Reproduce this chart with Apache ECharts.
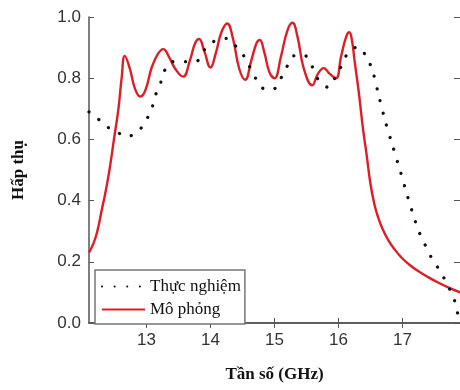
<!DOCTYPE html>
<html>
<head>
<meta charset="utf-8">
<script src="https://cdn.jsdelivr.net/npm/echarts@6/dist/echarts.min.js"></script>
<style>html,body{margin:0;padding:0;background:#fff}#c{width:460px;height:390px}</style>
</head>
<body>
<div id="c"></div>
<script>
const xTicks = [13, 14, 15, 16, 17];
const yTicks = [0, 0.2, 0.4, 0.6, 0.8, 1.0];
const seriesNames = ['Thực nghiệm', 'Mô phỏng'];
const measFreq = [12.10,12.20,12.35,12.52,12.68,12.85,12.98,13.08,13.13,13.21,13.27,13.39,13.57,13.77,13.90,14.04,14.25,14.38,14.52,14.61,14.71,14.82,14.98,15.10,15.20,15.30,15.46,15.59,15.68,15.84,15.96,16.06,16.15,16.31,16.44,16.53,16.63,16.73,16.85,16.97,17.08,17.20,17.27,17.36,17.45,17.56,17.66,17.75,17.83,17.87,17.90];
const measVal  = [0.690,0.676,0.645,0.627,0.609,0.622,0.658,0.700,0.740,0.778,0.820,0.854,0.854,0.854,0.892,0.919,0.930,0.908,0.873,0.838,0.798,0.767,0.764,0.800,0.840,0.873,0.876,0.838,0.797,0.770,0.807,0.846,0.883,0.903,0.868,0.827,0.743,0.661,0.577,0.494,0.414,0.333,0.293,0.253,0.215,0.179,0.143,0.105,0.064,0.023,0.000];
const simFreq = [12.10,12.17,12.23,12.30,12.36,12.42,12.49,12.56,12.61,12.66,12.74,12.82,12.90,12.98,13.08,13.18,13.26,13.35,13.45,13.57,13.68,13.76,13.82,13.90,14.00,14.08,14.17,14.26,14.35,14.45,14.54,14.64,14.72,14.77,14.84,14.92,15.00,15.10,15.20,15.28,15.36,15.46,15.59,15.68,15.77,15.86,15.96,16.04,16.12,16.17,16.21,16.25,16.32,16.38,16.44,16.50,16.56,16.62,16.69,16.78,16.88,16.98,17.10,17.22,17.40,17.58,17.75,17.90];
const simVal  = [0.230,0.260,0.300,0.370,0.430,0.500,0.600,0.700,0.800,0.873,0.830,0.765,0.740,0.760,0.835,0.880,0.895,0.870,0.830,0.805,0.860,0.915,0.928,0.890,0.835,0.880,0.950,0.979,0.930,0.830,0.795,0.860,0.915,0.925,0.885,0.820,0.800,0.870,0.955,0.981,0.935,0.830,0.777,0.815,0.833,0.815,0.800,0.870,0.935,0.950,0.925,0.860,0.750,0.640,0.550,0.455,0.390,0.345,0.307,0.270,0.240,0.215,0.192,0.173,0.150,0.130,0.113,0.100];

const pair = (a, b) => a.map((v, i) => [v, b[i]]);
const axisCol = '#555';
const tickFont = {color: '#333', fontFamily: 'Liberation Sans, Arial, sans-serif', fontSize: 17};

const chart = echarts.init(document.getElementById('c'), null, {renderer: 'canvas'});
chart.setOption({
  animation: false,
  backgroundColor: '#fff',
  grid: {left: 89, top: 17, width: 372, height: 306},
  xAxis: [{
    type: 'value', min: 12.1, max: 17.9,
    axisLine: {show: true, lineStyle: {color: axisCol, width: 1.5}},
    axisTick: {show: true, inside: true, length: 5, customValues: xTicks, lineStyle: {color: axisCol}},
    axisLabel: {customValues: xTicks, margin: 9, ...tickFont},
    splitLine: {show: false},
    name: 'Tần số (GHz)', nameLocation: 'middle', nameGap: 43,
    nameTextStyle: {fontFamily: 'Liberation Serif, Times New Roman, serif', fontWeight: 'bold', fontSize: 17, color: '#111'}
  }, {
    type: 'value', position: 'top', min: 12.1, max: 17.9,
    axisLine: {show: true, lineStyle: {color: axisCol, width: 1.5}},
    axisTick: {show: true, inside: true, length: 5, customValues: xTicks, lineStyle: {color: axisCol}},
    axisLabel: {show: false}, splitLine: {show: false}
  }],
  yAxis: [{
    type: 'value', min: 0, max: 1, interval: 0.2,
    axisLine: {show: true, lineStyle: {color: axisCol, width: 1.5}},
    axisTick: {show: true, inside: true, length: 5, lineStyle: {color: axisCol}},
    axisLabel: {margin: 8, formatter: v => v.toFixed(1), ...tickFont},
    splitLine: {show: false},
    name: 'Hấp thụ', nameLocation: 'middle', nameGap: 62,
    nameTextStyle: {fontFamily: 'Liberation Serif, Times New Roman, serif', fontWeight: 'bold', fontSize: 17, color: '#111'}
  }, {
    type: 'value', position: 'right', min: 0, max: 1, interval: 0.2,
    axisLine: {show: false},
    axisTick: {show: true, inside: true, length: 6, lineStyle: {color: axisCol}},
    axisLabel: {show: false}, splitLine: {show: false}
  }],
  legend: {
    orient: 'vertical', left: 95, top: 270,
    padding: [8, 4, 6, 6], itemGap: 6, itemWidth: 43, itemHeight: 14,
    borderColor: '#777', borderWidth: 1.5, backgroundColor: '#fff',
    itemStyle: {opacity: 0},
    textStyle: {fontFamily: 'Liberation Serif, Times New Roman, serif', fontSize: 17, color: '#111'},
    data: seriesNames
  },
  series: [{
    name: seriesNames[0], type: 'line', data: pair(measFreq, measVal),
    smooth: 0.3, showSymbol: false, symbol: 'none', clip: true,
    lineStyle: {color: '#111', width: 3.2, type: [0.1, 12.5], cap: 'round'},
    itemStyle: {color: '#111'}, z: 3
  }, {
    name: seriesNames[1], type: 'line', data: pair(simFreq, simVal),
    smooth: 0.45, showSymbol: false, symbol: 'none', clip: true,
    lineStyle: {color: '#dc1f26', width: 2.4},
    itemStyle: {color: '#dc1f26'}, z: 2
  }]
});
</script>
</body>
</html>
